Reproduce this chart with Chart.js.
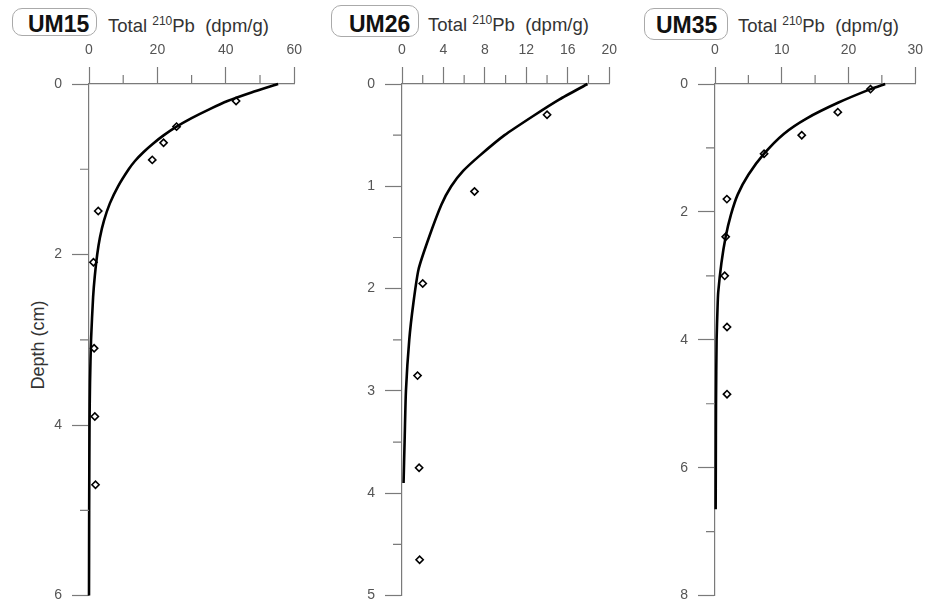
<!DOCTYPE html>
<html><head><meta charset="utf-8">
<script src="https://cdn.jsdelivr.net/npm/chart.js@4"></script>
<style>
html,body{margin:0;padding:0;background:#fff;width:931px;height:614px;overflow:hidden;position:relative;font-family:"Liberation Sans",Arial,sans-serif;}
canvas{position:absolute;top:0;}
.box{position:absolute;border:1px solid #aaa;border-radius:10px;box-sizing:border-box;}
.um{position:absolute;font-weight:bold;font-size:23px;line-height:23px;color:#111;white-space:nowrap;}
.tot{position:absolute;font-size:18.5px;line-height:18.5px;color:#333;white-space:nowrap;}
.tot .s{position:relative;top:-7px;font-size:12px;}
.ytitle{position:absolute;left:-22px;top:336px;width:120px;text-align:center;font-size:18px;line-height:18px;color:#333;transform:rotate(-90deg);white-space:nowrap;}
</style>
</head><body>
<div class="box" style="left:12px;top:8px;width:85px;height:28px;"></div>
<div class="um" style="left:28px;top:12.5px;">UM15</div>
<div class="tot" style="left:108px;top:17.3px;">Total <span class="s">210</span>Pb&nbsp; (dpm/g)</div>
<div class="box" style="left:331px;top:5px;width:88px;height:32px;"></div>
<div class="um" style="left:349px;top:12.5px;">UM26</div>
<div class="tot" style="left:428px;top:16.3px;">Total <span class="s">210</span>Pb&nbsp; (dpm/g)</div>
<div class="box" style="left:644px;top:8px;width:84px;height:32px;"></div>
<div class="um" style="left:656px;top:13.5px;">UM35</div>
<div class="tot" style="left:738px;top:17.3px;">Total <span class="s">210</span>Pb&nbsp; (dpm/g)</div>
<div class="ytitle">Depth (cm)</div>

<canvas id="c1" width="310" height="614" style="left:0px"></canvas>
<canvas id="c2" width="315" height="614" style="left:310px"></canvas>
<canvas id="c3" width="306" height="614" style="left:625px"></canvas>

<script>
// ---- UM15 ----
const um15PointPb    = [43, 25.6, 21.8, 18.5, 2.7, 1.3, 1.5, 1.7, 1.9];
const um15PointDepth = [0.2, 0.5, 0.69, 0.89, 1.49, 2.09, 3.1, 3.9, 4.7];
const um15CurvePb    = [55.3, 47.5, 40.5, 35, 30, 25.6, 21.9, 18.7, 15.9, 13.5, 11.6, 8.5, 6.1, 4.4, 3.2, 2.4, 1.7, 1.2, 0.6, 0.3, 0.15, 0.05, 0];
const um15CurveDepth = [0, 0.1, 0.2, 0.3, 0.4, 0.5, 0.6, 0.7, 0.8, 0.9, 1.0, 1.2, 1.4, 1.6, 1.8, 2.0, 2.25, 2.5, 3.0, 3.5, 4.0, 5.0, 6.0];
const um15XTicks = [0, 20, 40, 60];
const um15XMinor = [10, 30, 50];
const um15YTicks = [0, 2, 4, 6];
const um15YMinor = [1, 3, 5];

// ---- UM26 ----
const um26PointPb    = [14, 7, 2, 1.5, 1.65, 1.7];
const um26PointDepth = [0.3, 1.05, 1.95, 2.85, 3.75, 4.65];
const um26CurvePb    = [17.9, 15.2, 12.7, 9.9, 7.5, 5.9, 4.75, 3.8, 2.6, 1.6, 1.1, 0.7, 0.38, 0.25, 0.15];
const um26CurveDepth = [0, 0.15, 0.31, 0.5, 0.7, 0.85, 1.0, 1.18, 1.5, 1.81, 2.14, 2.5, 3.0, 3.5, 3.9];
const um26XTicks = [0, 4, 8, 12, 16, 20];
const um26XMinor = [2, 6, 10, 14, 18];
const um26YTicks = [0, 1, 2, 3, 4, 5];
const um26YMinor = [0.5, 1.5, 2.5, 3.5, 4.5];

// ---- UM35 ----
const um35PointPb    = [23.3, 18.4, 13.0, 7.35, 1.78, 1.6, 1.45, 1.8, 1.8];
const um35PointDepth = [0.08, 0.44, 0.8, 1.09, 1.8, 2.39, 3.0, 3.8, 4.85];
const um35CurvePb    = [25.5, 23.3, 18.5, 13.7, 10.3, 7.35, 5.0, 3.4, 2.4, 1.6, 0.96, 0.48, 0.38, 0.24, 0.15, 0.12, 0.1];
const um35CurveDepth = [0, 0.08, 0.29, 0.54, 0.78, 1.09, 1.42, 1.73, 2.04, 2.39, 2.8, 3.26, 3.5, 4.0, 5.0, 6.0, 6.65];
const um35XTicks = [0, 10, 20, 30];
const um35XMinor = [5, 15, 25];
const um35YTicks = [0, 2, 4, 6, 8];
const um35YMinor = [1, 3, 5, 7];

const AXIS = '#7a7a7a';
const LABEL = '#555';
const FONT = '"Liberation Sans", Arial, sans-serif';

const minorTicks = {
  id: 'minorTicks',
  afterDraw(chart, args, opts) {
    const ctx = chart.ctx, xs = chart.scales.x, ys = chart.scales.y, a = chart.chartArea;
    ctx.save();
    ctx.strokeStyle = AXIS; ctx.lineWidth = 1.2;
    ctx.beginPath();
    (opts.x || []).forEach(v => { const p = xs.getPixelForValue(v); ctx.moveTo(p, a.top); ctx.lineTo(p, a.top - 9); });
    (opts.y || []).forEach(v => { const p = ys.getPixelForValue(v); ctx.moveTo(a.left, p); ctx.lineTo(a.left - 9, p); });
    ctx.stroke();
    ctx.restore();
  }
};

function pairs(xs, ys) { return xs.map((v, i) => ({x: v, y: ys[i]})); }

function makeChart(id, pPb, pD, cPb, cD, xT, xM, yT, yM, pad, tension) {
  new Chart(document.getElementById(id), {
    type: 'scatter',
    data: {
      datasets: [
        { data: pairs(cPb, cD), showLine: true, borderColor: '#000', borderWidth: 2.6,
          pointRadius: 0, fill: false, tension: tension, clip: false, order: 1 },
        { data: pairs(pPb, pD), pointStyle: 'rectRot', pointRadius: 3.6,
          pointBorderColor: '#000', pointBackgroundColor: 'rgba(255,255,255,0)', pointBorderWidth: 1.6,
          showLine: false, clip: false, order: 2 }
      ]
    },
    options: {
      responsive: false, animation: false, devicePixelRatio: 1,
      layout: { padding: pad },
      plugins: { legend: { display: false }, tooltip: { enabled: false }, minorTicks: { x: xM, y: yM } },
      scales: {
        x: {
          type: 'linear', position: 'top', min: xT[0], max: xT[xT.length - 1],
          afterBuildTicks: s => { s.ticks = xT.map(v => ({value: v})); },
          afterFit: s => { s.height = 74; },
          ticks: { color: LABEL, font: { family: FONT, size: 14 }, padding: 8, maxRotation: 0, autoSkip: false },
          grid: { display: true, drawOnChartArea: false, drawTicks: true, tickLength: 17, tickColor: AXIS, tickWidth: 1.2 },
          border: { display: true, color: AXIS, width: 1.2 }
        },
        y: {
          type: 'linear', position: 'left', reverse: true, min: yT[0], max: yT[yT.length - 1],
          afterBuildTicks: s => { s.ticks = yT.map(v => ({value: v})); },
          afterFit: s => { s.width = 40; },
          ticks: { color: LABEL, font: { family: FONT, size: 14 }, padding: 10, autoSkip: false },
          grid: { display: true, drawOnChartArea: false, drawTicks: true, tickLength: 17, tickColor: AXIS, tickWidth: 1.2 },
          border: { display: true, color: AXIS, width: 1.2 }
        }
      }
    },
    plugins: [minorTicks]
  });
}

makeChart('c1', um15PointPb, um15PointDepth, um15CurvePb, um15CurveDepth, um15XTicks, um15XMinor, um15YTicks, um15YMinor,
  { top: 10, left: 49, right: 12, bottom: 8 }, 0.2);
makeChart('c2', um26PointPb, um26PointDepth, um26CurvePb, um26CurveDepth, um26XTicks, um26XMinor, um26YTicks, um26YMinor,
  { top: 10, left: 52, right: 13.3, bottom: 8.3 }, 0.2);
makeChart('c3', um35PointPb, um35PointDepth, um35CurvePb, um35CurveDepth, um35XTicks, um35XMinor, um35YTicks, um35YMinor,
  { top: 10, left: 50, right: 7.7, bottom: 8.3 }, 0.2);
</script>
</body></html>
